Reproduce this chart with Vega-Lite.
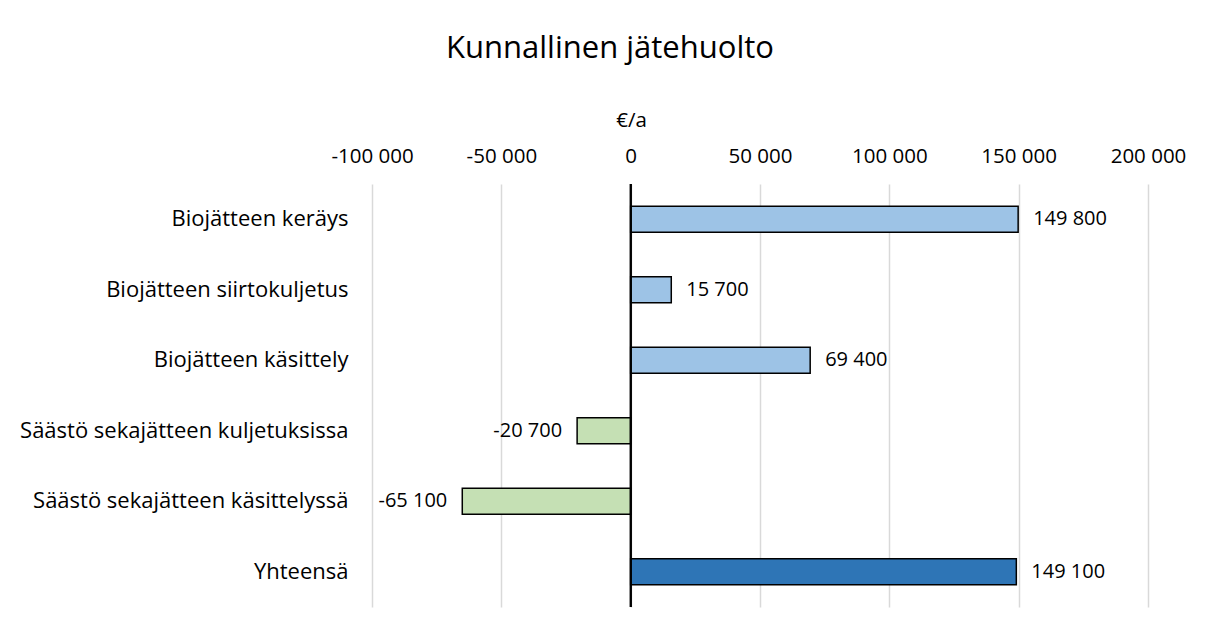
{
  "$schema": "https://vega.github.io/schema/vega-lite/v6.json",
  "width": 776,
  "height": 423,
  "autosize": {"type": "none"},
  "padding": {"left": 372, "top": 184, "right": 62, "bottom": 26},
  "background": "white",
  "config": {
    "locale": {"number": {"decimal": ",", "thousands": " ", "grouping": [3], "currency": ["", " €"], "minus": "-"}},
    "font": "Open Sans",
    "view": {"stroke": null}
  },
  "title": {
    "text": "Kunnallinen jätehuolto",
    "fontSize": 31,
    "fontWeight": "normal",
    "color": "black",
    "anchor": "middle",
    "dx": -150,
    "offset": 45
  },
  "data": {
    "values": [
      {"kat": "Biojätteen keräys", "arvo": 149800, "ryhma": "kustannus"},
      {"kat": "Biojätteen siirtokuljetus", "arvo": 15700, "ryhma": "kustannus"},
      {"kat": "Biojätteen käsittely", "arvo": 69400, "ryhma": "kustannus"},
      {"kat": "Säästö sekajätteen kuljetuksissa", "arvo": -20700, "ryhma": "säästö"},
      {"kat": "Säästö sekajätteen käsittelyssä", "arvo": -65100, "ryhma": "säästö"},
      {"kat": "Yhteensä", "arvo": 149100, "ryhma": "yhteensä"}
    ]
  },
  "layer": [
    {
      "mark": {"type": "bar", "stroke": "black", "strokeWidth": 1.5},
      "encoding": {
        "y": {
          "field": "kat", "type": "nominal", "sort": null,
          "scale": {"paddingInner": 0.63, "paddingOuter": 0.315},
          "axis": {"title": null, "domain": false, "ticks": false, "labelFontSize": 22, "labelColor": "black", "labelPadding": 24, "labelLimit": 400}
        },
        "x": {
          "field": "arvo", "type": "quantitative",
          "scale": {"domain": [-100000, 200000], "nice": false},
          "axis": {
            "orient": "top", "values": [-100000, -50000, 0, 50000, 100000, 150000, 200000],
            "format": ",d", "domain": false, "ticks": false,
            "labelFlush": false, "labelOverlap": false,
            "labelFontSize": 20.5, "labelColor": "black", "labelPadding": 18,
            "gridColor": "#d9d9d9", "gridWidth": 1.5,
            "title": "€/a", "titleFontSize": 20.5, "titleFontWeight": "normal", "titleColor": "black",
            "titleX": 259, "titlePadding": 16
          }
        },
        "color": {
          "field": "ryhma", "type": "nominal", "legend": null,
          "scale": {"domain": ["kustannus", "säästö", "yhteensä"], "range": ["#9dc3e6", "#c5e0b4", "#2e75b6"]}
        }
      }
    },
    {
      "mark": {"type": "rule", "color": "black", "strokeWidth": 1.5},
      "encoding": {"x": {"datum": 0, "type": "quantitative"}}
    },
    {
      "transform": [{"filter": "datum.arvo >= 0"}],
      "mark": {"type": "text", "align": "left", "dx": 15, "fontSize": 20, "color": "black"},
      "encoding": {
        "y": {"field": "kat", "type": "nominal", "sort": null},
        "x": {"field": "arvo", "type": "quantitative"},
        "text": {"field": "arvo", "type": "quantitative", "format": ",d"}
      }
    },
    {
      "transform": [{"filter": "datum.arvo < 0"}],
      "mark": {"type": "text", "align": "right", "dx": -15, "fontSize": 20, "color": "black"},
      "encoding": {
        "y": {"field": "kat", "type": "nominal", "sort": null},
        "x": {"field": "arvo", "type": "quantitative"},
        "text": {"field": "arvo", "type": "quantitative", "format": ",d"}
      }
    }
  ]
}
